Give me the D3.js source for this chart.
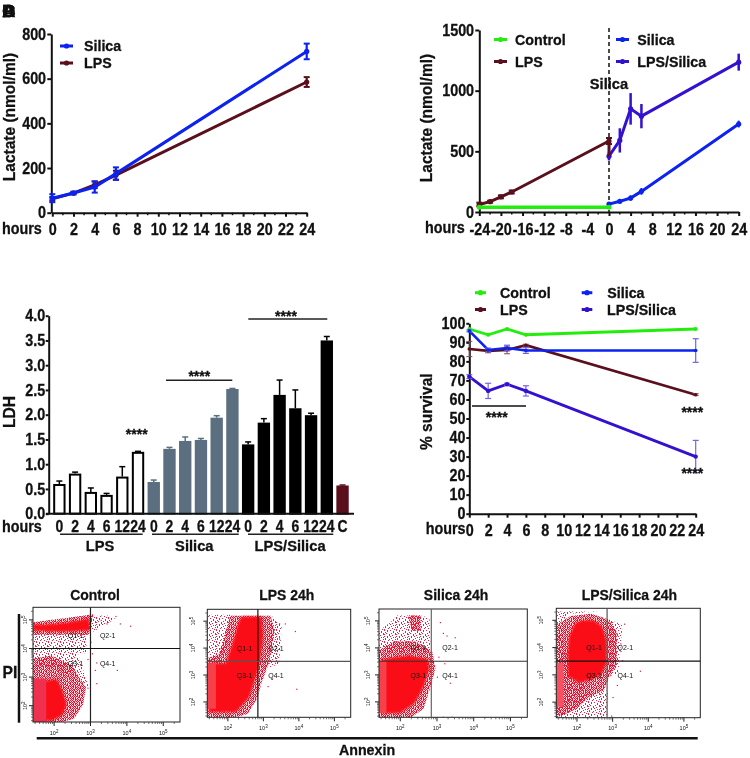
<!DOCTYPE html>
<html><head><meta charset="utf-8">
<script src="https://cdn.jsdelivr.net/npm/d3@7/dist/d3.min.js"></script>
<style>html,body{margin:0;padding:0;background:#fff}svg{display:block;filter:blur(.35px)}
text{font-family:"Liberation Sans",Arial,sans-serif;font-weight:bold;fill:#111;stroke:#111;stroke-width:.3}
text.thin{font-weight:normal;stroke:none}</style>
</head><body><svg id="c" width="750" height="758"></svg>
<script>
// ---------- data ----------
const hoursA = [0,2,4,6,24];
const silicaA = [65,88,115,175,722];
const silicaAErr = [18,6,25,28,35];
const lpsA = [62,88,125,168,585];
const lpsAErr = [8,5,15,20,22];

const controlBx = [-24,0];
const controlB = [40,40];
const lpsBx = [-24,-22,-20,-18,0];
const lpsB = [62,85,125,165,585];
const lpsBErr = [15,8,12,12,25];
const silicaBx = [0,2,4,6,24];
const silicaB = [65,88,115,170,725];
const silicaBErr = [8,12,22,28,28];
const lpsSilicaB = [460,590,850,790,1235];
const lpsSilicaBErr = [35,100,130,100,70];

const ldhHours = ["0","2","4","6","12","24"];
const ldhLPS = [0.60,0.81,0.44,0.38,0.75,1.25];
const ldhLPSTop = [0.66,0.84,0.52,0.41,0.95,1.26];
const ldhSilica = [0.64,1.31,1.47,1.49,1.94,2.52];
const ldhSilicaTop = [0.68,1.34,1.55,1.52,1.98,2.53];
const ldhBoth = [1.40,1.84,2.40,2.13,1.99,3.50];
const ldhBothTop = [1.45,1.92,2.70,2.50,2.03,3.58];
const ldhControl = 0.57, ldhControlTop = 0.58;

const hoursD = [0,2,4,6,24];
const survControl = [97,94,97,94,97];
const survLPS = [86.5,85.5,86,88.5,62.5];
const survLPSErr = [4,1,2,0.5,0.5];
const survSilica = [96,86,87,85.7,85.7];
const survSilicaErr = [0.5,1,1.5,1.5,6.2];
const survBoth = [72,64.5,68,64.5,30];
const survBothErr = [1,4,0.5,2.7,8.5];

const colors = {control:"#22ee0c", lps:"#5a0f1c", silica:"#0b22f0", both:"#3410cf"};

// flow panels: regions are read in percent of each plot (x from the left, y from the bottom)
const flowTitles = ["Control","LPS 24h","Silica 24h","LPS/Silica 24h"];
const flowDense = [
 [[[0,85],[10,85],[25,87],[38,90],[39,82],[38,80],[25,79],[12,79],[0,80]],
  [[0,36],[10,36],[16,38],[20,28],[23,15],[20,6],[13,1],[0,1]]],
 [[[24,93],[38,93],[39,75],[37,52],[33,34],[29,18],[20,5],[1,5],[1,50],[13,50],[18,70],[21,85]]],
 [[[1,53],[8,55],[20,57],[33,54],[34,45],[30,28],[24,13],[14,4],[1,4]]],
 [[[13,86],[18,89],[26,89],[32,83],[35,70],[35,50],[31,39],[25,35],[16,32],[8,38],[8,60],[9,75]]]
];
const flowMid = [
 [[[0,55],[12,58],[26,50],[36,30],[34,15],[28,3],[20,0],[0,0]],[[0,87],[0,76],[38,76],[41,94],[25,91]]],
 [[[16,94],[44,94],[47,80],[43,50],[38,33],[35,18],[28,3],[20,0],[0,0],[0,55],[8,58],[12,75]]],
 [[[0,62],[10,70],[25,70],[36,60],[38,45],[34,25],[30,8],[22,0],[0,0]],[[20,94],[28,94],[28,80],[22,80]]],
 [[[10,93],[24,95],[36,90],[42,78],[42,50],[37,38],[33,25],[22,18],[14,8],[0,0],[0,85]]]
];
const flowSparse = [
 [[[0,78],[30,76],[37,78],[36,60],[0,62]],[[24,88],[38,92],[50,93],[56,90],[40,78]],[[0,62],[30,62],[38,30],[30,40],[0,50]]],
 [[[0,95],[16,95],[14,70],[10,52],[0,52]],[[44,95],[52,85],[50,50],[43,45],[44,70]]],
 [[[0,80],[8,88],[12,94],[28,94],[34,92],[35,60],[0,60]]],
 [[[0,0],[35,0],[36,25],[22,22],[0,85]],[[0,85],[10,95],[30,97],[0,97]],[[36,90],[46,85],[43,40],[36,40]]]
];
const flowStrip = [
 [[0,38],[9,38],[9,0],[0,0]],
 [[0,50],[6,50],[6,8],[0,8]],
 [[0,52],[5,52],[5,4],[0,4]],
 [[0,50],[5,50],[5,10],[0,10]]
];
const stripColors = ["#f0304f","#f8404a","#f8404a","#f85060"];
const flowStray = [
 [[66,84],[59,86],[56,92.5],[43,34],[57,45.5],[43,52],[42,45.5],[40,60],[46,89],[50,86],[37,30],[30,11],[39,70],[37,55]],
 [[61,80],[62,26.5],[50,87],[49,52],[47,52],[42,29],[40,47],[50,73],[54,87],[45,36]],
 [[45.5,75.6],[51,74],[43,78],[47.7,32],[43,0.5],[44,50],[40,56],[39,37.6],[49,0.5],[41,88]],
 [[58,43],[47,86],[42,77],[39,19],[37.5,39],[40,45],[45.6,52.6],[44.4,68],[38,2],[42,30]]
];
const flowBoxes = [
 {l:33,r:180,t:607.3,b:722,xg:1e3,yg:1e4,ly:6,hc:"#111",vc:"#222"},
 {l:207.3,r:350.7,t:609.3,b:717.3,xg:700,yg:3200,ly:12,hc:"#555",vc:"#111"},
 {l:379,r:527.3,t:609,b:717.3,xg:700,yg:3200,ly:9,hc:"#333",vc:"#666"},
 {l:556.3,r:700.3,t:608.3,b:717.7,xg:700,yg:3200,ly:13,hc:"#111",vc:"#555"}
];
const flowTitleX = [95,286.7,456,629.3];
const qX = [[29,50.8],[26,47.9],[26.5,47.9],[26.2,47.9]];
const qY = [[75.8,50.6],[64,39],[64,39],[64,39]];
const speckDense = ["#.#.##.#..#.",".#.#..##.#.#","##.#.#..#.#.",".#.##.#.#..#","#..#.#.##.#.",".##.#.#..#.#","#.#..#.#.##.",".#.##..#.#.#","##.#.#.#..#.",".#..#.##.#.#","#.##.#..#.#.",".#.#.#.#.##."];
const speckSparse = ["#..#..#.....","...#.....#.#",".#.....#....",".#...#.....#","....#...#...","#.........#.","#..#..#.....","...#.....#..",".#.......#..","..#....#...#","#....#.....#",".....#..#..."];
const decades = [1e2,1e3,1e4,1e5];

// ---------- helpers ----------
const svg = d3.select("#c");
const SX = 0.87;
function T(s,x,y,size,anchor="start",sx=SX,rot=0,g=svg){
  return g.append("text").text(s).attr("font-size",size).attr("text-anchor",anchor)
    .attr("transform",`translate(${x},${y}) rotate(${rot}) scale(${sx},1)`);
}
function stars(x,yc){ T("****",x,yc+7.7,14,"middle",1); }
function styleAxis(g,size,sw=2){
  g.selectAll(".domain").attr("stroke","#111").attr("stroke-width",sw);
  g.selectAll("line").attr("stroke","#111").attr("stroke-width",sw);
  g.selectAll("text").attr("font-size",size).attr("transform",`scale(${SX},1)`);
}
function series(g,x,y,xs,ys,errs,color,o={}){
  const line=d3.line().x((d,i)=>x(xs[i])).y(d=>y(d));
  g.append("path").attr("d",line(ys)).attr("fill","none").attr("stroke",color).attr("stroke-width",o.w||3);
  xs.forEach((h,i)=>{
    if(errs&&errs[i]>0){
      const ec=o.ec||color, ew=o.ew||2.2, cap=o.cap===undefined?3:o.cap;
      g.append("line").attr("x1",x(h)).attr("x2",x(h)).attr("y1",y(ys[i]-errs[i])).attr("y2",y(ys[i]+errs[i])).attr("stroke",ec).attr("stroke-width",ew);
      if(cap>0)[ys[i]-errs[i],ys[i]+errs[i]].forEach(v=>g.append("line").attr("x1",x(h)-cap).attr("x2",x(h)+cap).attr("y1",y(v)).attr("y2",y(v)).attr("stroke",ec).attr("stroke-width",Math.min(ew,2)));
    }
    if(o.r!==0) g.append("circle").attr("cx",x(h)).attr("cy",y(ys[i])).attr("r",o.r||2.6).attr("fill",color);
  });
}
function legend(items,size){
  items.forEach(it=>{
    svg.append("line").attr("x1",it.x1).attr("x2",it.x2).attr("y1",it.y).attr("y2",it.y).attr("stroke",it.c).attr("stroke-width",3);
    svg.append("circle").attr("cx",(it.x1+it.x2)/2).attr("cy",it.y).attr("r",2.6).attr("fill",it.c);
    T(it.t,it.tx,it.y+5.3,size,"start",0.95);
  });
}
const plain = d => String(d);

// corner letters, stacked on each other
["A","B","C","D"].forEach(s=>T(s,2,16.5,17,"start",1.1));

// ---------- panel A ----------
{
  const x=d3.scaleLinear().domain([0,24]).range([52.3,306.7]);
  const y=d3.scaleLinear().domain([0,800]).range([212.7,34]);
  const g=svg.append("g");
  const ax=g.append("g").attr("transform","translate(0,212.7)").call(d3.axisBottom(x).tickValues(d3.range(0,25,2)).tickSize(4).tickPadding(7).tickSizeOuter(0).tickFormat(plain));
  styleAxis(ax,16.5);
  ax.append("g").selectAll("line").data(d3.range(1,24,2)).join("line").attr("x1",d=>x(d)).attr("x2",d=>x(d)).attr("y2",2.5).attr("stroke","#111").attr("stroke-width",1.5);
  const ay=g.append("g").attr("transform","translate(51.3,0)").call(d3.axisLeft(y).tickValues([0,200,400,600,800]).tickSize(4).tickPadding(2).tickSizeOuter(0).tickFormat(plain));
  styleAxis(ay,16.5);
  series(g,x,y,hoursA,lpsA,lpsAErr,colors.lps);
  series(g,x,y,hoursA,silicaA,silicaAErr,colors.silica);
  T("hours",2,234,16.5,"start");
  T("Lactate (nmol/ml)",15,117,16.5,"middle",0.94,-90);
  legend([{t:"Silica",x1:60,x2:73,y:46,c:colors.silica,tx:84},{t:"LPS",x1:60,x2:73,y:63,c:colors.lps,tx:84}],15);
}

// ---------- panel B ----------
{
  const x=d3.scaleLinear().domain([-24,24]).range([479.3,738.7]);
  const y=d3.scaleLinear().domain([0,1500]).range([212,30]);
  const g=svg.append("g");
  const ax=g.append("g").attr("transform","translate(0,212)").call(d3.axisBottom(x).tickValues(d3.range(-24,25,4)).tickSize(4).tickPadding(7).tickSizeOuter(0).tickFormat(plain));
  styleAxis(ax,16.5);
  ax.append("g").selectAll("line").data(d3.range(-22,24,4)).join("line").attr("x1",d=>x(d)).attr("x2",d=>x(d)).attr("y2",2.5).attr("stroke","#111").attr("stroke-width",1.5);
  const ay=g.append("g").attr("transform","translate(479.3,0)").call(d3.axisLeft(y).tickValues([0,500,1000,1500]).tickSize(4).tickPadding(2).tickSizeOuter(0).tickFormat(plain));
  styleAxis(ay,16.5);
  g.append("line").attr("x1",x(0)).attr("x2",x(0)).attr("y1",28).attr("y2",212).attr("stroke","#111").attr("stroke-width",1.5).attr("stroke-dasharray","4,3");
  series(g,x,y,lpsBx,lpsB,lpsBErr,colors.lps);
  series(g,x,y,silicaBx,lpsSilicaB,lpsSilicaBErr,colors.both,{cap:0,ew:2.5});
  g.append("line").attr("x1",x(0)).attr("x2",x(0)).attr("y1",y(585)).attr("y2",y(460)).attr("stroke",colors.lps).attr("stroke-width",3);
  series(g,x,y,silicaBx,silicaB,silicaBErr,colors.silica,{cap:0,ew:2});
  series(g,x,y,controlBx,controlB,null,colors.control,{w:3.5,r:2.5});
  T("hours",425,233,16.5,"start");
  T("Lactate (nmol/ml)",432,118,16.5,"middle",0.94,-90);
  T("Silica",609,89,15.5,"middle",0.95);
  legend([{t:"Control",x1:494,x2:507,y:39.5,c:colors.control,tx:515},{t:"LPS",x1:494,x2:507,y:61.5,c:colors.lps,tx:515},
          {t:"Silica",x1:616,x2:629,y:39.5,c:colors.silica,tx:637.3},{t:"LPS/Silica",x1:616,x2:629,y:61.5,c:colors.both,tx:637.3}],15);
}

// ---------- panel C ----------
{
  const cats=[...ldhHours.map(h=>"L"+h),...ldhHours.map(h=>"S"+h),...ldhHours.map(h=>"B"+h),"C"];
  const vals=[...ldhLPS,...ldhSilica,...ldhBoth,ldhControl];
  const tops=[...ldhLPSTop,...ldhSilicaTop,...ldhBothTop,ldhControlTop];
  const fills=[...ldhLPS.map(()=>"#fff"),...ldhSilica.map(()=>"#5b6f80"),...ldhBoth.map(()=>"#000"),colors.lps];
  const strokes=[...ldhLPS.map(()=>"#000"),...ldhSilica.map(()=>"#5b6f80"),...ldhBoth.map(()=>"#000"),colors.lps];
  const x=d3.scaleBand().domain(cats).range([51.5,350.4]).paddingInner(0.24).paddingOuter(0.12);
  const y=d3.scaleLinear().domain([0,4]).range([513.7,315.7]);
  const g=svg.append("g");
  cats.forEach((c,i)=>{
    const cx=x(c)+x.bandwidth()/2;
    g.append("line").attr("x1",cx).attr("x2",cx).attr("y1",y(vals[i])).attr("y2",y(tops[i])).attr("stroke",strokes[i]).attr("stroke-width",1.5);
    g.append("line").attr("x1",cx-3).attr("x2",cx+3).attr("y1",y(tops[i])).attr("y2",y(tops[i])).attr("stroke",strokes[i]).attr("stroke-width",1.5);
    g.append("rect").attr("x",x(c)+0.8).attr("width",x.bandwidth()-1.6).attr("y",y(vals[i])+1).attr("height",y(0)-y(vals[i])-1)
      .attr("fill",fills[i]).attr("stroke",strokes[i]).attr("stroke-width",2);
  });
  const ax=g.append("g").attr("transform","translate(0,513.7)").call(d3.axisBottom(x).tickSize(0).tickPadding(7).tickFormat(d=>d==="C"?"C":d.slice(1)));
  styleAxis(ax,16);
  ax.select(".domain").attr("d","M46,0H354");
  const ay=g.append("g").attr("transform","translate(48.7,0)").call(d3.axisLeft(y).tickValues(d3.range(0,4.01,0.5)).tickSize(3).tickPadding(1).tickFormat(d3.format(".1f")).tickSizeOuter(0));
  styleAxis(ay,16.5);
  T("hours",2,532,16.5,"start");
  T("LDH",15,412,16.5,"middle",0.95,-90);
  [[60,142.7,"LPS",100],[152,238.7,"Silica",194.3],[248,333.3,"LPS/Silica",290]].forEach(d=>{
    g.append("line").attr("x1",d[0]).attr("x2",d[1]).attr("y1",534.3).attr("y2",534.3).attr("stroke","#222").attr("stroke-width",1.5);
    T(d[2],d[3],551,15.5,"middle",0.95);
  });
  [[248.3,327.3,319],[166,232.3,380.3]].forEach(d=>g.append("line").attr("x1",d[0]).attr("x2",d[1]).attr("y1",d[2]).attr("y2",d[2]).attr("stroke","#222").attr("stroke-width",1.5));
  stars(286,313); stars(199.3,373); stars(136.7,431.7);
}

// ---------- panel D ----------
{
  const x=d3.scaleLinear().domain([0,24]).range([469.3,695.7]);
  const y=d3.scaleLinear().domain([0,100]).range([513.7,323.3]);
  const g=svg.append("g");
  const ax=g.append("g").attr("transform","translate(0,513.7)").call(d3.axisBottom(x).tickValues(d3.range(0,25,2)).tickSize(4).tickPadding(7).tickSizeOuter(0).tickFormat(plain));
  styleAxis(ax,16.5);
  const ay=g.append("g").attr("transform","translate(469.3,0)").call(d3.axisLeft(y).tickValues(d3.range(0,101,10)).tickSize(3).tickPadding(1.5).tickSizeOuter(0).tickFormat(plain));
  styleAxis(ay,16.5);
  series(g,x,y,hoursD,survControl,null,colors.control,{w:2.8,r:2});
  series(g,x,y,hoursD,survLPS,survLPSErr,colors.lps,{w:2.6,r:1.8,ew:1,ec:"#8a4a55"});
  series(g,x,y,hoursD,survSilica,survSilicaErr,colors.silica,{w:2.6,r:1.8,ew:1.2,ec:"#6f62e6"});
  series(g,x,y,hoursD,survBoth,survBothErr,colors.both,{w:2.8,r:2.2,ew:1.2,ec:"#7a62e6"});
  T("hours",425.7,534,16.5,"start");
  T("% survival",432,411.7,16.5,"middle",0.94,-90);
  legend([{t:"Control",x1:475,x2:486,y:292.7,c:colors.control,tx:500},{t:"LPS",x1:475,x2:486,y:309.5,c:colors.lps,tx:500},
          {t:"Silica",x1:581.7,x2:592.3,y:292.7,c:colors.silica,tx:607.3},{t:"LPS/Silica",x1:581.7,x2:592.3,y:309.5,c:colors.both,tx:607}],15);
  g.append("line").attr("x1",472).attr("x2",526).attr("y1",406).attr("y2",406).attr("stroke","#111").attr("stroke-width",1.5);
  stars(496.7,414.3); stars(692.3,409); stars(692.3,470);
}

// ---------- flow panels ----------
{
  const defs=svg.append("defs");
  defs.append("filter").attr("id","soft").attr("x","-10%").attr("y","-10%").attr("width","120%").attr("height","120%")
    .append("feGaussianBlur").attr("stdDeviation",1.1);
  [["speckDense",speckDense,"#f00c30"],["speckSparse",speckSparse,"#ee1c48"]].forEach(([id,rows,c])=>{
    const p=defs.append("pattern").attr("id",id).attr("width",12).attr("height",12).attr("patternUnits","userSpaceOnUse");
    rows.forEach((r,j)=>[...r].forEach((ch,i)=>{ if(ch==="#") p.append("rect").attr("x",i).attr("y",j).attr("width",1).attr("height",1).attr("fill",c); }));
  });
  flowBoxes.forEach((b,k)=>{
    const px=d3.scaleLinear().domain([0,100]).range([b.l,b.r]);
    const py=d3.scaleLinear().domain([0,100]).range([b.b,b.t]);
    const lx=d3.scaleLog().domain([Math.pow(10,1.42),Math.pow(10,5.46)]).range([b.l,b.r]);
    const ly=d3.scaleLog().domain([Math.pow(10,1.43),Math.pow(10,5.44)]).range([b.b,b.t]);
    defs.append("clipPath").attr("id","cp"+k).append("rect").attr("x",b.l).attr("y",b.t).attr("width",b.r-b.l).attr("height",b.b-b.t);
    const g=svg.append("g");
    const clip=g.append("g").attr("clip-path",`url(#cp${k})`);
    const poly=d3.line().x(d=>px(d[0])).y(d=>py(d[1]));
    flowSparse[k].forEach(p=>clip.append("path").attr("d",poly(p)+"Z").attr("fill","url(#speckSparse)"));
    flowMid[k].forEach(p=>{
      clip.append("path").attr("d",poly(p)+"Z").attr("fill","#ff3a48").attr("opacity",0.22);
      clip.append("path").attr("d",poly(p)+"Z").attr("fill","url(#speckDense)");
    });
    const soft=clip.append("g").attr("filter","url(#soft)");
    flowDense[k].forEach(p=>soft.append("path").attr("d",poly(p)+"Z").attr("fill","#fa0f16"));
    clip.append("path").attr("d",poly(flowStrip[k])+"Z").attr("fill",stripColors[k]);
    flowStray[k].forEach(d=>clip.append("rect").attr("x",px(d[0])).attr("y",py(d[1])).attr("width",1.2).attr("height",1.2).attr("fill","#e0185a"));
    g.append("rect").attr("x",b.l).attr("y",b.t).attr("width",b.r-b.l).attr("height",b.b-b.t).attr("fill","none").attr("stroke","#222").attr("stroke-width",1);
    g.append("line").attr("x1",lx(b.xg)).attr("x2",lx(b.xg)).attr("y1",b.t).attr("y2",b.b).attr("stroke",b.vc).attr("stroke-width",1.2);
    g.append("line").attr("x1",b.l).attr("x2",b.r).attr("y1",ly(b.yg)).attr("y2",ly(b.yg)).attr("stroke",b.hc).attr("stroke-width",1.2);
    // log axes
    const minor=[];
    [1e1,1e2,1e3,1e4,1e5].forEach(d=>[2,3,4,5,6,7,8,9].forEach(m=>minor.push(d*m)));
    const mx=minor.filter(v=>lx(v)>=b.l&&lx(v)<=b.r), my=minor.filter(v=>ly(v)<=b.b&&ly(v)>=b.t);
    g.append("g").selectAll("line").data(mx).join("line").attr("x1",d=>lx(d)).attr("x2",d=>lx(d)).attr("y1",b.b).attr("y2",b.b+2).attr("stroke","#333").attr("stroke-width",0.7);
    g.append("g").selectAll("line").data(my).join("line").attr("x1",b.l).attr("x2",b.l-2).attr("y1",d=>ly(d)).attr("y2",d=>ly(d)).attr("stroke","#333").attr("stroke-width",0.7);
    decades.forEach(v=>{
      g.append("line").attr("x1",lx(v)).attr("x2",lx(v)).attr("y1",b.b).attr("y2",b.b+4).attr("stroke","#222").attr("stroke-width",1);
      g.append("line").attr("x1",b.l).attr("x2",b.l-4).attr("y1",ly(v)).attr("y2",ly(v)).attr("stroke","#222").attr("stroke-width",1);
      const p=Math.round(Math.log10(v));
      const tx=g.append("text").attr("class","thin").attr("text-anchor","middle").attr("font-size",5.5).attr("x",lx(v)).attr("y",b.b+12.5);
      tx.append("tspan").text("10"); tx.append("tspan").text(p).attr("dy",-2).attr("font-size",4.5);
      const ty=g.append("text").attr("class","thin").attr("text-anchor","middle").attr("font-size",5.5)
        .attr("transform",`translate(${b.l-b.ly},${ly(v)}) rotate(-90)`);
      ty.append("tspan").text("10"); ty.append("tspan").text(p).attr("dy",-2).attr("font-size",4.5);
    });
    [["Q1-1",0,0],["Q2-1",1,0],["Q3-1",0,1],["Q4-1",1,1]].forEach(d=>{
      g.append("text").attr("class","thin").text(d[0]).attr("x",px(qX[k][d[1]])).attr("y",py(qY[k][d[2]])+2.5).attr("text-anchor","middle").attr("font-size",7);
    });
    T(flowTitles[k],flowTitleX[k],600,15.5,"middle",0.9);
  });
  T("PI",10,678,16.5,"middle",0.95);
  svg.append("line").attr("x1",19).attr("x2",19).attr("y1",614).attr("y2",722.7).attr("stroke","#111").attr("stroke-width",2.5);
  svg.append("line").attr("x1",36.7).attr("x2",697.7).attr("y1",738.3).attr("y2",738.3).attr("stroke","#111").attr("stroke-width",2.5);
  T("Annexin",367,755,15,"middle",0.95);
}
</script></body></html>
